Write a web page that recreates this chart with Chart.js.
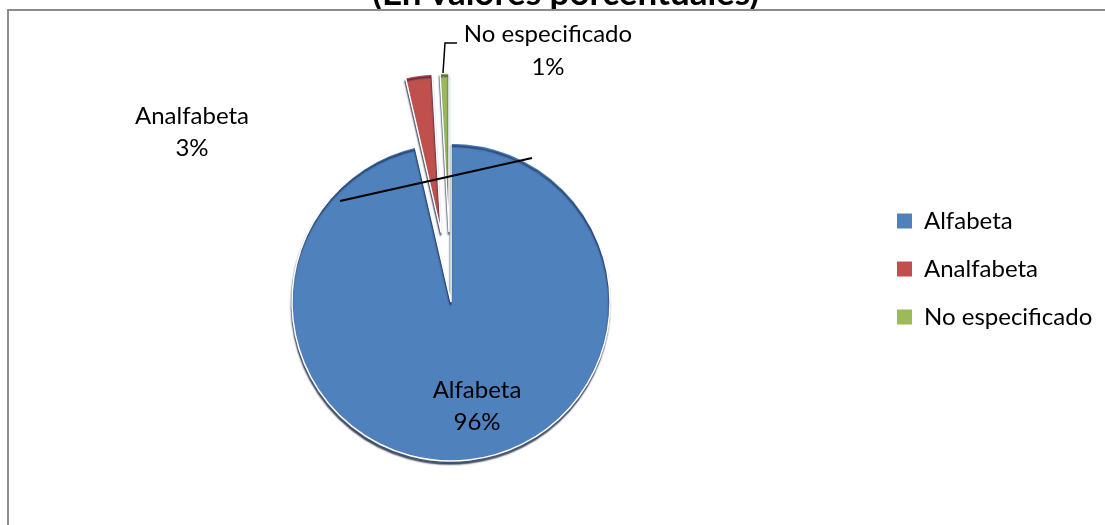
<!DOCTYPE html>
<html>
<head>
<meta charset="utf-8">
<script src="https://cdn.jsdelivr.net/npm/chart.js@4.4.0/dist/chart.umd.min.js"></script>
<style>
html, body { margin: 0; padding: 0; background: #fff; overflow: hidden; width: 1105px; height: 525px; }
#frame { position: absolute; left: 7px; top: 9px; width: 1300px; height: 700px; border: 2px solid #8c8c8c; box-sizing: border-box; z-index: 2; pointer-events: none; }
#wrap { position: absolute; left: 0; top: -27px; z-index: 1; }
</style>
</head>
<body>
<div id="frame"></div>
<div id="wrap"><canvas id="c" width="1400" height="552"></canvas></div>
<script>
// ---- data ----
const titleText = '(En valores porcentuales)';
const categories = ['Alfabeta', 'Analfabeta', 'No especificado'];
const values = [96.4, 2.7, 0.9];

// ---- style ----
const colors = ['#4F81BD', '#C0504D', '#9BBB59'];
const explode = [0, 70, 70];             // px each slice is pulled out
const FONT = 'Lato';
const FS = 24;
const CW = 1400, CH = 552;
const WRAP_TOP = -27;
const FRAME_TOP = 9;
const RADIUS = 159;
// label anchors relative to pie centre: [dx, baseline1 dy, baseline2 dy]
const labelPos = [[26, 96, 128], [-259, -178.5, -146], [97, -260, -227]];
// leader line for "No especificado" (relative to pie centre)
const leaderNE = [[6, -259], [-6, -259], [-8, -229]];
// the long black leader line crossing the pie
const leaderLong = [[-111, -101], [81, -144]];

const total = values.reduce((a, b) => a + b, 0);
const pctLabels = values.map(v => Math.round(v / total * 100) + '%');

const mctx = document.createElement('canvas').getContext('2d');
mctx.font = FS + 'px ' + FONT;
const maxTextW = Math.max(...categories.map(c => mctx.measureText(c).width));
const LEG_PAD = 24;
const BOX = 15;
const legendLeft = 859;
const legendRight = legendLeft + LEG_PAD * 2 + BOX + FS / 2 + maxTextW;
const padR = CW - legendRight;

// white chart-area fill that hides the lower part of the title (as in the original)
const coverPlugin = {
  id: 'cover',
  beforeDatasetsDraw(chart) {
    const ctx = chart.ctx;
    ctx.save();
    ctx.fillStyle = '#ffffff';
    ctx.fillRect(0, FRAME_TOP - WRAP_TOP, chart.width, 30);
    ctx.restore();
  }
};

const explodePlugin = {
  id: 'explodeDraw',
  beforeDatasetDraw(chart, args) {
    const ctx = chart.ctx;
    args.meta.data.forEach((arc, i) => {
      const mid = (arc.startAngle + arc.endAngle) / 2;
      ctx.save();
      ctx.translate(Math.cos(mid) * explode[i], Math.sin(mid) * explode[i]);
      ctx.shadowColor = 'rgba(15,30,60,0.75)';
      ctx.shadowBlur = 1.5;
      ctx.shadowOffsetX = -0.5;
      ctx.shadowOffsetY = 3;
      arc.draw(ctx);
      ctx.restore();
    });
    return false;
  }
};

const labelPlugin = {
  id: 'pieLabels',
  afterDatasetsDraw(chart) {
    const meta = chart.getDatasetMeta(0);
    const ctx = chart.ctx;
    const cx = meta.data[0].x, cy = meta.data[0].y;
    ctx.save();
    ctx.strokeStyle = '#000';
    ctx.lineWidth = 2;
    ctx.beginPath();
    ctx.moveTo(cx + leaderLong[0][0], cy + leaderLong[0][1]);
    ctx.lineTo(cx + leaderLong[1][0], cy + leaderLong[1][1]);
    ctx.stroke();
    ctx.lineWidth = 1.5;
    ctx.beginPath();
    ctx.moveTo(cx + leaderNE[0][0], cy + leaderNE[0][1]);
    ctx.lineTo(cx + leaderNE[1][0], cy + leaderNE[1][1]);
    ctx.lineTo(cx + leaderNE[2][0], cy + leaderNE[2][1]);
    ctx.stroke();
    ctx.font = FS + 'px ' + FONT;
    ctx.fillStyle = '#000';
    ctx.textAlign = 'center';
    ctx.textBaseline = 'alphabetic';
    meta.data.forEach((arc, i) => {
      const p = labelPos[i];
      ctx.fillText(categories[i], cx + p[0], cy + p[1]);
      ctx.fillText(pctLabels[i], cx + p[0], cy + p[2]);
    });
    ctx.restore();
  }
};

new Chart(document.getElementById('c'), {
  type: 'pie',
  data: {
    labels: categories,
    datasets: [{
      data: values,
      backgroundColor: colors,
      borderColor: '#ffffff',
      borderWidth: 1.5
    }]
  },
  options: {
    responsive: false,
    animation: false,
    events: [],
    radius: RADIUS,
    layout: { padding: { left: 29, right: padR, top: 0, bottom: 106 } },
    plugins: {
      title: {
        display: true,
        text: titleText,
        color: '#000',
        font: { family: FONT, size: 35, weight: 'bold', lineHeight: 1.2 },
        padding: { top: 0, bottom: 170 }
      },
      legend: {
        position: 'right',
        align: 'start',
        fullSize: false,
        labels: {
          boxWidth: BOX,
          boxHeight: BOX,
          padding: LEG_PAD,
          color: '#000',
          font: { family: FONT, size: FS },
          generateLabels(chart) {
            const items = Chart.overrides.doughnut.plugins.legend.labels.generateLabels(chart);
            return items.map(it => Object.assign(it, { lineWidth: 0, strokeStyle: 'rgba(0,0,0,0)' }));
          }
        }
      },
      tooltip: { enabled: false }
    }
  },
  plugins: [coverPlugin, explodePlugin, labelPlugin]
});
</script>
</body>
</html>
